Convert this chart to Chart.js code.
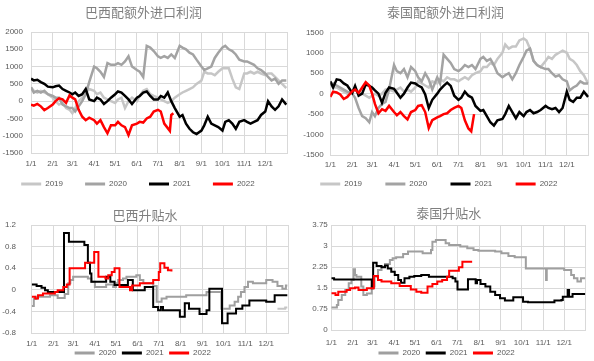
<!DOCTYPE html>
<html><head><meta charset="utf-8">
<script src="https://cdn.jsdelivr.net/npm/chart.js@4.4.1/dist/chart.umd.min.js"></script>
<style>
html,body{margin:0;padding:0;background:#fff;width:594px;height:361px;overflow:hidden;position:relative}
canvas{position:absolute;display:block}
</style></head><body>
<canvas id="c1" width="297" height="198" style="left:0;top:0"></canvas>
<canvas id="c2" width="297" height="198" style="left:297px;top:0"></canvas>
<canvas id="c3" width="297" height="177" style="left:0;top:190px"></canvas>
<canvas id="c4" width="297" height="177" style="left:297px;top:190px"></canvas>
<script>
// ---------- axis categories ----------
const monthLabels = ['1/1','2/1','3/1','4/1','5/1','6/1','7/1','8/1','9/1','10/1','11/1','12/1'];
const profitTicks = [2000,1500,1000,500,0,-500,-1000,-1500];
const profitTicksTH = [1500,1000,500,0,-500,-1000,-1500];
const premTicksBR = [1.2,0.8,0.4,0,-0.4,-0.8];
const premTicksTH = [3.75,3,2.25,1.5,0.75,0];

// ---------- import profit (common date grid) ----------
const profitDates = ['1/1','1/5','1/10','1/15','1/20','1/25','2/1','2/5','2/10','2/15','2/20','2/25','3/1','3/5','3/10','3/15','3/20','3/25','4/1','4/5','4/10','4/15','4/20','4/25','5/1','5/5','5/10','5/15','5/20','5/25','6/1','6/5','6/10','6/15','6/20','6/25','7/1','7/5','7/10','7/15','7/20','7/25','8/1','8/5','8/10','8/15','8/20','8/25','9/1','9/5','9/10','9/15','9/20','9/25','10/1','10/5','10/10','10/15','10/20','10/25','11/1','11/5','11/10','11/15','11/20','11/25','12/1','12/5','12/10','12/15','12/20','12/25','12/31'];

const brProfit2019 = [400,300,250,300,250,200, 100,0,-100,-50,-200,-250, -350,-200,0,100,250,350, 300,200,250,100,50,0, -50,50,100,-200,0,100, 0,150,300,350,200,150, 100,50,0,-50,0,100, 200,250,300,350,400,500, 600,850,800,800,750,850, 950,950,950,650,400,350, 800,800,850,800,850,800, 750,800,800,700,600,500,380];
const brProfit2020 = [400,250,300,250,300,200, 150,100,100,-100,-150,-200, -200,-300,-150,0,200,550, 1000,950,850,700,1100,1050, 1050,1100,1050,1150,1300,1000, 900,850,700,1600,1550,1450, 1300,1250,1300,1250,1350,1250, 1600,1550,1500,1400,1350,1200, 1000,900,950,1000,1250,1400, 1550,1600,1500,1450,1350,1200, 1150,1150,1100,1050,950,900, 800,700,600,650,500,600,600];
const brProfit2021 = [650,600,620,550,500,420, 400,430,450,350,300,250, 200,250,150,200,350,50, 0,100,50,-80,0,100, 200,280,250,150,50,-80, 100,150,250,280,150,50, 50,150,100,250,0,-200, -450,-400,-650,-800,-900,-950, -850,-700,-450,-650,-700,-750, -850,-600,-550,-650,-800,-600, -550,-600,-650,-600,-550,-400, -300,0,-150,-250,-150,50,-100];
const brProfit2022Dates = ['1/1','1/5','1/10','1/15','1/20','1/25','2/1','2/5','2/10','2/15','2/20','2/25','3/1','3/5','3/10','3/15','3/20','3/25','4/1','4/5','4/10','4/15','4/20','4/25','5/1','5/5','5/10','5/15','5/20','5/25','6/1','6/5','6/10','6/15','6/20','6/25','7/1','7/5','7/10','7/15','7/18','7/20','7/23'];
const brProfit2022 = [-100,-130,-80,-150,-260,-200, -100,0,80,50,-50,170, 100,50,-250,-450,-550,-480, -550,-650,-550,-750,-930,-700, -700,-600,-700,-750,-980,-700, -650,-600,-620,-500,-450,-300, -250,-300,-650,-780,-860,-400,-350];

const thProfit2019 = [250,150,150,100,50,0, 50,100,50,0,-50,-100, -50,0,-50,0,100,100, 50,100,150,50,100,50, 150,300,250,200,150,300, 250,350,300,400,350,350, 300,350,400,350,450,500, 550,650,650,750,700,850, 1000,1200,1100,1150,1150,1300, 1350,1300,1100,800,700,650, 800,900,850,950,1000,1050, 1000,850,800,700,550,450,250];
const thProfit2020 = [200,250,200,150,100,50, 0,-100,-350,-550,-600,-700, -450,-550,-350,-250,-200,100, 700,550,500,600,400,650, 550,400,300,500,350,100, 400,250,950,850,750,600, 550,600,700,650,700,600, 850,900,800,850,700,500, 400,450,500,350,500,700, 900,1050,1100,800,700,650, 600,600,500,420,450,350, 300,80,150,200,300,250,250];
const thProfit2021 = [300,150,350,330,250,200, 20,190,-50,0,230,190, 150,80,0,-220,20,150, 120,20,-100,0,150,270, 250,200,150,-20,-350,-150, 0,100,190,270,190,-50, -150,-100,50,-50,-100,-300, -420,-400,-550,-700,-780,-650, -620,-500,-300,-450,-600,-450, -550,-450,-400,-480,-450,-400, -300,-350,-380,-350,-450,-350, 50,-150,-200,-100,-100,50,-80];
const thProfit2022Dates = ['1/1','1/5','1/10','1/15','1/20','1/25','2/1','2/5','2/10','2/15','2/20','2/25','3/1','3/5','3/10','3/15','3/20','3/25','4/1','4/5','4/10','4/15','4/20','4/25','5/1','5/5','5/10','5/15','5/20','5/25','6/1','6/5','6/10','6/15','6/20','6/25','7/1','7/5','7/10','7/15','7/19','7/23'];
const thProfit2022 = [-80,50,30,-20,-130,-80, 60,100,20,150,280,200, 0,-250,-480,-380,-420,-300, -450,-530,-450,-550,-630,-450, -400,-300,-280,-450,-840,-650, -580,-550,-500,-480,-400,-350, -300,-350,-650,-850,-920,-500];

// ---------- premiums (step changes) ----------
const brPrem2019Dates = ['12/17','12/28','12/31'];
const brPrem2019 = [-0.35,-0.33,-0.33];
const brPrem2020Dates = ['1/1','1/4','1/8','1/27','2/7','2/17','2/22','2/25','3/1','3/22','3/27','4/1','4/17','4/27','5/1','5/4','5/11','5/16','5/30','6/4','6/9','6/23','6/28','7/5','7/12','8/9','9/7','9/28','10/10','10/17','10/22','10/26','10/31','11/5','11/12','12/1','12/10','12/17','12/24','12/29','12/31'];
const brPrem2020 = [-0.3,-0.17,-0.13,-0.1,-0.15,-0.08,0.12,0.18,0.24,0.21,0.15,0.05,0.1,0.05,0.12,0.18,0.21,0.24,0.27,0.18,0.12,0.07,-0.22,-0.16,-0.13,-0.1,-0.04,-0.35,-0.29,-0.22,-0.13,-0.04,0.05,0.15,0.12,0.18,0.15,0.07,0.02,0.08,0.08];
const brPrem2021Dates = ['1/1','1/8','1/15','1/20','1/24','2/16','2/23','3/17','3/22','3/25','3/27','4/17','4/23','4/29','5/18','5/25','6/11','6/23','6/30','7/4','7/7','7/31','8/7','8/13','8/28','9/7','9/11','9/29','10/7','10/19','10/28','11/7','12/1','12/13','12/31'];
const brPrem2021 = [0.1,0.07,0.04,-0.01,-0.04,1.05,0.89,0.83,0.5,0.3,0.15,0.24,0.15,0.09,0.18,-0.01,0.05,-0.32,-0.38,-0.32,-0.38,-0.5,-0.25,-0.35,-0.45,-0.38,0.02,-0.62,-0.44,-0.35,-0.29,-0.2,-0.22,-0.1,-0.1];
const brPrem2022Dates = ['1/1','1/6','1/10','1/17','2/3','2/7','2/15','2/20','2/24','3/18','3/31','4/6','4/16','4/20','4/25','4/29','5/6','5/21','5/24','6/4','6/23','7/1','7/3','7/9','7/14','7/19'];
const brPrem2022 = [-0.13,-0.16,-0.1,-0.07,-0.04,-0.01,0.05,0.1,0.4,0.5,0.7,0.24,0.21,0.27,0.33,0.4,0.05,-0.01,0.08,0.12,0.18,0.33,0.49,0.41,0.36,0.34];

const thPrem2020Dates = ['1/1','1/9','1/11','1/16','1/21','1/26','1/30','2/2','2/4','2/6','2/13','2/16','2/21','2/28','3/4','3/9','3/14','3/19','3/26','3/30','4/4','4/14','4/21','5/12','5/24','5/26','5/31','6/14','6/19','7/5','7/15','7/24','7/31','8/24','9/2','9/12','9/21','10/7','11/5','11/6','12/1','12/11','12/15','12/20','12/25','12/31'];
const thPrem2020 = [0.8,0.89,1.07,1.25,1.43,1.67,1.79,2.17,1.96,1.9,1.55,1.25,1.3,1.55,1.9,2.14,2.26,2.36,2.5,2.56,2.6,2.71,2.8,2.74,2.86,3.15,3.21,3.1,3.04,2.98,2.92,2.86,2.83,2.8,2.74,2.64,2.6,2.2,1.79,2.2,2.14,1.96,1.85,1.73,1.85,1.85];
const thPrem2021Dates = ['1/1','1/5','2/28','3/2','3/7','3/14','3/19','3/23','3/28','4/2','4/7','4/11','4/16','4/23','4/30','5/10','5/21','6/24','6/28','7/1','7/16','7/27','7/29','8/3','8/10','8/17','8/24','8/31','9/7','9/19','10/3','10/10','11/17','11/27','11/29','12/6','12/8','12/13','12/31'];
const thPrem2021 = [1.85,1.8,1.49,2.4,2.29,2.24,2.3,2.2,2.08,1.96,1.79,1.69,1.85,1.9,1.93,1.96,1.9,1.85,1.73,1.45,1.81,1.67,1.79,1.64,1.55,1.37,1.25,1.13,1.05,1.17,1.01,0.99,1.05,1.07,1.19,1.43,1.19,1.29,1.29];
const thPrem2022Dates = ['1/1','1/7','1/11','1/23','1/28','2/4','2/9','2/21','3/3','3/9','3/14','3/28','4/9','4/25','5/3','5/10','5/19','5/26','6/2','6/9','6/16','6/19','7/3','7/8','7/22'];
const thPrem2022 = [1.31,1.25,1.37,1.43,1.49,1.52,1.43,1.49,1.93,1.79,1.73,1.67,1.57,1.45,1.37,1.33,1.55,1.64,1.73,1.79,1.9,2.12,2.24,2.44,2.44];

// ---------- helpers ----------
const CUM = [0,31,59,90,120,151,181,212,243,273,304,334];
function dayOf(s){ const p = s.split('/'); return CUM[+p[0]-1] + (+p[1]) - 1; }
function pts(dates, vals){ return dates.map((d,i)=>({x:dayOf(d), y:vals[i]})); }
const monthDays = monthLabels.map(dayOf);
const xTickVals = monthDays.concat([365]);

const C19 = '#c6c6c6', C20 = '#a3a3a3', C21 = '#000000', C22 = '#ff0000';
const FONT = "'Liberation Sans', Arial, sans-serif";
const TFONT = "'Noto Sans CJK SC', sans-serif";

function ds(label, data, color, width, stepped){
  return {label, data, borderColor:color, backgroundColor:color, borderWidth:width,
          pointRadius:0, tension:0, stepped:!!stepped, fill:false};
}

function build(id, o){
  const gap = ' '.repeat(o.legSpaces);
  return new Chart(document.getElementById(id), {
    type:'line',
    data:{datasets:o.datasets},
    options:{
      responsive:false, animation:false,
      layout:{padding:{left:o.padL, right:o.padR, top:0, bottom:0}},
      plugins:{
        title:{display:true, text:o.title, color:'#7f7f7f',
               font:{family:TFONT, size:13, weight:'normal'},
               padding:{top:o.tTop, bottom:o.tBot}},
        legend:{position:'bottom',
          labels:{boxWidth:20, boxHeight:3, padding:o.legPad, color:'#595959',
                  font:{family:FONT, size:8},
                  generateLabels:(chart)=>{
                    const items = Chart.defaults.plugins.legend.labels.generateLabels(chart)
                      .filter(it=> !(o.hideLegend||[]).includes(it.text));
                    items.forEach(it=>{ it.lineWidth = 0; it.text = it.text + gap; });
                    return items;
                  },
                  sort:(a,b)=>a.datasetIndex-b.datasetIndex}},
        tooltip:{enabled:false}
      },
      scales:{
        x:{type:'linear', min:0, max:365,
           afterBuildTicks:(s)=>{ s.ticks = xTickVals.map(v=>({value:v})); },
           afterFit:(s)=>{ s.height = o.xH; },
           ticks:{autoSkip:false, maxRotation:0, minRotation:0, padding:o.xPad, color:'#595959',
                  font:{family:FONT, size:8},
                  callback:(v)=>{ const i = monthDays.indexOf(v); return i>=0 ? monthLabels[i] : ''; }},
           grid:{color:'#d9d9d9', lineWidth:1, drawTicks:false},
           border:{color:'#d9d9d9'}},
        y:{min:o.yMin, max:o.yMax,
           afterBuildTicks:(s)=>{ s.ticks = o.yTicks.map(v=>({value:v})); },
           afterFit:(s)=>{ s.width = o.yW; },
           ticks:{padding:o.yPad, color:'#595959', font:{family:FONT, size:8},
                  callback:(v)=>String(v)},
           grid:{color:'#d9d9d9', lineWidth:1, drawTicks:false},
           border:{display:false}}
      }
    }
  });
}

// later datasets drawn on top
function ordered(list){ list.forEach((d,i)=>{ d.order = list.length - i; }); return list; }

build('c1', {
  title:'巴西配额外进口利润', padL:0, yW:31, padR:10, tTop:4, tBot:12.4,
  legPad:11, legSpaces:5, xH:16, xPad:6.2, yPad:8, yMin:-1500, yMax:2000, yTicks:profitTicks,
  datasets: ordered([
    ds('2019', pts(profitDates, brProfit2019), C19, 2.5),
    ds('2020', pts(profitDates, brProfit2020), C20, 2.5),
    ds('2021', pts(profitDates, brProfit2021), C21, 2.5),
    ds('2022', pts(brProfit2022Dates, brProfit2022), C22, 2.5)
  ])
});
build('c2', {
  title:'泰国配额外进口利润', padL:5, yW:28.3, padR:5, tTop:4, tBot:12.7,
  legPad:10, legSpaces:6, xH:15, xPad:5.2, yPad:6.6, yMin:-1500, yMax:1500, yTicks:profitTicksTH,
  datasets: ordered([
    ds('2019', pts(profitDates, thProfit2019), C19, 2.5),
    ds('2020', pts(profitDates, thProfit2020), C20, 2.5),
    ds('2021', pts(profitDates, thProfit2021), C21, 2.5),
    ds('2022', pts(thProfit2022Dates, thProfit2022), C22, 2.5)
  ])
});
build('c3', {
  title:'巴西升贴水', padL:2, yW:29.7, padR:9, tTop:17.2, tBot:2.2,
  legPad:1, legSpaces:2, xH:15, xPad:6.2, yPad:15.7, yMin:-0.8, yMax:1.2, yTicks:premTicksBR,
  hideLegend:['2019'],
  datasets: ordered([
    ds('2019', pts(brPrem2019Dates, brPrem2019), C19, 2, true),
    ds('2020', pts(brPrem2020Dates, brPrem2020), '#9f9f9f', 2, true),
    ds('2021', pts(brPrem2021Dates, brPrem2021), C21, 2, true),
    ds('2022', pts(brPrem2022Dates, brPrem2022), C22, 2, true)
  ])
});
build('c4', {
  title:'泰国升贴水', padL:12, yW:22.3, padR:5.3, tTop:15.2, tBot:4.2,
  legPad:1, legSpaces:2, xH:18, xPad:8.2, yPad:3.5, yMin:0, yMax:3.75, yTicks:premTicksTH,
  datasets: ordered([
    ds('2020', pts(thPrem2020Dates, thPrem2020), '#9f9f9f', 2, true),
    ds('2021', pts(thPrem2021Dates, thPrem2021), C21, 2, true),
    ds('2022', pts(thPrem2022Dates, thPrem2022), C22, 2, true)
  ])
});
</script>
</body></html>
